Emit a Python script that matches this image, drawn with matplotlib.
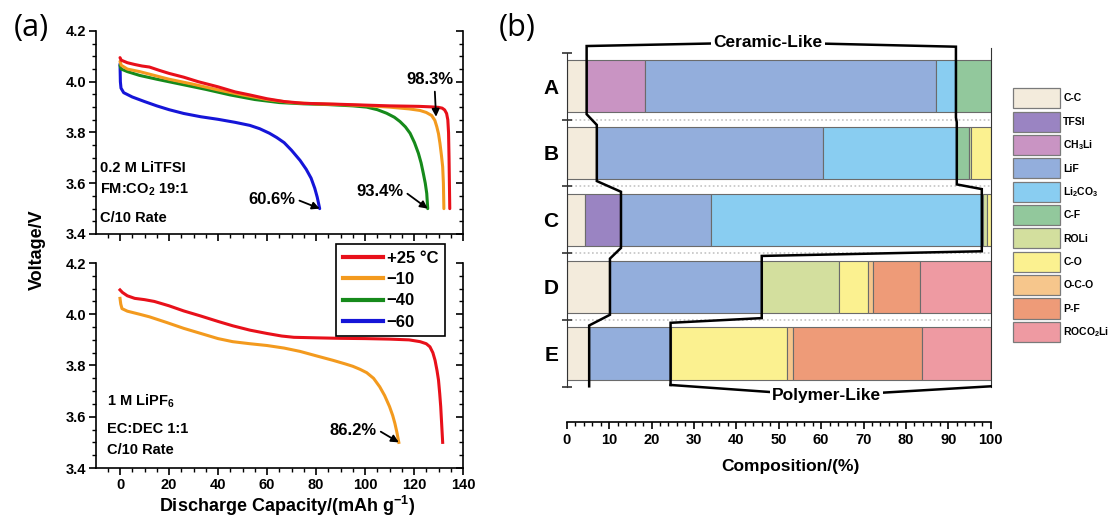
import matplotlib
matplotlib.use("Agg")
import matplotlib.pyplot as plt
from matplotlib.patches import Patch
from matplotlib.lines import Line2D
from matplotlib.ticker import MultipleLocator, FormatStrFormatter, FixedLocator
import numpy as np

plt.rcParams['font.family'] = ['Liberation Sans', 'DejaVu Sans']
plt.rcParams['font.weight'] = 'bold'
plt.rcParams['mathtext.fontset'] = 'custom'
plt.rcParams['mathtext.rm'] = 'Liberation Sans:bold'
plt.rcParams['mathtext.bf'] = 'Liberation Sans:bold'
plt.rcParams['mathtext.it'] = 'Liberation Sans:bold'
plt.rcParams['mathtext.default'] = 'bf'

# ---------------- Panel (a) data: 0.2 M LiTFSI FM:CO2 19:1 ----------------
top_p25_cap = [0, 0.5, 3, 6, 9, 12, 16, 20, 26, 32, 40, 47, 53, 60, 67, 75, 87, 100, 110, 122,
               127, 130, 131.5, 132.5, 133.3, 133.8, 134.1, 134.3, 134.45, 134.6]
top_p25_v = [4.095, 4.085, 4.075, 4.068, 4.062, 4.058, 4.045, 4.033, 4.018, 4.0, 3.98, 3.96, 3.948,
             3.933, 3.922, 3.915, 3.912, 3.908, 3.905, 3.903, 3.901, 3.899, 3.896, 3.889, 3.875,
             3.85, 3.8, 3.7, 3.6, 3.5]
top_m10_cap = [0, 0.5, 3, 8, 12, 20, 30, 40, 50, 60, 70, 80, 90, 100, 110, 118, 122.4, 125, 127.2,
               128.5, 129.3, 130, 130.6, 131.2, 131.7, 132, 132.2]
top_m10_v = [4.08, 4.065, 4.05, 4.04, 4.03, 4.01, 3.99, 3.968, 3.948, 3.93, 3.918, 3.913, 3.91,
             3.906, 3.9, 3.893, 3.887, 3.879, 3.867, 3.848, 3.823, 3.795, 3.757, 3.71, 3.665, 3.6, 3.5]
top_m40_cap = [0, 0.5, 3, 8, 15, 25, 35, 45, 55, 65, 75, 85, 95, 100.7, 105, 108.8, 112, 114.3,
               116.5, 118.4, 120.2, 121.8, 122.9, 123.8, 124.6, 125.2, 125.6]
top_m40_v = [4.065, 4.05, 4.04, 4.025, 4.01, 3.99, 3.97, 3.948, 3.93, 3.918, 3.913, 3.91, 3.905,
             3.9, 3.89, 3.876, 3.86, 3.843, 3.822, 3.797, 3.76, 3.718, 3.68, 3.639, 3.6, 3.56, 3.5]
top_m60_cap = [0, 0.15, 0.4, 1.5, 5, 10, 15, 20, 26, 33, 40, 47, 53, 57, 61, 64, 67, 70, 73.5,
               76, 78, 79.5, 80.5, 81.5]
top_m60_v = [4.07, 4.0, 3.975, 3.957, 3.94, 3.922, 3.905, 3.89, 3.875, 3.862, 3.852, 3.84, 3.828,
             3.815, 3.797, 3.78, 3.76, 3.73, 3.69, 3.655, 3.62, 3.58, 3.545, 3.5]

# ---------------- Panel (a) data: 1 M LiPF6 EC:DEC 1:1 ----------------
bot_p25_cap = [0, 1, 3, 6, 10, 14, 20, 26, 33, 40, 46, 53, 60, 66, 71, 80, 90, 100, 110, 118,
               122.5, 125, 126.5, 127.7, 128.6, 129.4, 130, 130.5, 130.9, 131.3, 131.7]
bot_p25_v = [4.095, 4.085, 4.072, 4.062, 4.057, 4.05, 4.033, 4.013, 3.993, 3.972, 3.955, 3.938,
             3.925, 3.915, 3.91, 3.908, 3.906, 3.905, 3.903, 3.9, 3.893, 3.885, 3.873, 3.85, 3.82,
             3.78, 3.743, 3.69, 3.64, 3.57, 3.5]
bot_m10_cap = [0, 0.3, 0.8, 3, 8, 12, 19, 26, 33, 40, 46, 53, 60, 67, 73.5, 80, 87, 92, 95, 98,
               100.7, 103.5, 106, 108, 110, 111.3, 112.2, 113, 113.8]
bot_m10_v = [4.062, 4.04, 4.022, 4.012, 4.0, 3.99, 3.968, 3.945, 3.925, 3.905, 3.893, 3.885, 3.878,
             3.868, 3.855, 3.838, 3.82, 3.806, 3.797, 3.785, 3.772, 3.75, 3.717, 3.683, 3.64, 3.605,
             3.574, 3.54, 3.5]

temp_labels = ['+25 \u00b0C', '\u221210', '\u221240', '\u221260']
temp_colors = ['#E8101A', '#F39A1E', '#168A1B', '#1515D8']

# ---------------- Panel (b) data ----------------
samples = ['A', 'B', 'C', 'D', 'E']
species = ['C-C', 'TFSI', 'CH3Li', 'LiF', 'Li2CO3', 'C-F', 'ROLi', 'C-O', 'O-C-O', 'P-F', 'ROCO2Li']
species_labels = ['C-C', 'TFSI', 'CH$_3$Li', 'LiF', 'Li$_2$CO$_3$', 'C-F', 'ROLi', 'C-O',
                  'O-C-O', 'P-F', 'ROCO$_2$Li']
species_colors = ['#F3EBDC', '#9A84C2', '#C994C3', '#93AEDC', '#89CDF1', '#92C89C', '#D3DF9E',
                  '#FBF190', '#F6C68C', '#EE9B78', '#EE9AA2']
cc = [4.7, 7.1, 4.3, 10.2, 5.3]
tfsi = [0, 0, 8.5, 0, 0]
ch3li = [13.85, 0, 0, 0, 0]
lif = [68.45, 53.3, 21.2, 35.8, 19.2]
li2co3 = [4.8, 31.6, 63.9, 0, 0]
cf = [8.2, 2.9, 0.4, 0, 0]
roli = [0, 0.5, 0.9, 18.2, 0]
co = [0, 4.6, 0.8, 6.9, 27.4]
oco = [0, 0, 0, 1.2, 1.4]
pf = [0, 0, 0, 11.0, 30.5]
roco2li = [0, 0, 0, 16.7, 16.2]
composition = [cc, tfsi, ch3li, lif, li2co3, cf, roli, co, oco, pf, roco2li]
# ceramic-like region per sample: first and last species inside the bracket
ceramic_first = ['CH3Li', 'LiF', 'LiF', 'LiF', 'LiF']
ceramic_last = ['Li2CO3', 'Li2CO3', 'Li2CO3', 'LiF', 'LiF']

# ---------------- Figure ----------------
W, H = 1114, 520
fig = plt.figure(figsize=(W / 100, H / 100), dpi=100)


def fx(px):
    return px / W


def fy(py):
    return 1 - py / H


ax_top = fig.add_axes([fx(96), fy(234), 367 / W, 203 / H])
ax_bot = fig.add_axes([fx(96), fy(468), 367 / W, 205 / H])


def style_a(ax, show_xlabels):
    ax.set_xlim(-9.8, 140)
    ax.set_ylim(3.4, 4.2)
    ax.spines['top'].set_visible(False)
    ax.spines['right'].set_visible(False)
    for s in ['left', 'bottom']:
        ax.spines[s].set_linewidth(1.2)
    ax.xaxis.set_major_locator(MultipleLocator(20))
    ax.xaxis.set_minor_locator(MultipleLocator(5))
    ax.yaxis.set_major_locator(MultipleLocator(0.2))
    ax.yaxis.set_minor_locator(MultipleLocator(0.05))
    ax.yaxis.set_major_formatter(FormatStrFormatter('%.1f'))
    ax.tick_params(which='major', direction='out', length=5, width=1.2, labelsize=10.5, pad=2)
    ax.tick_params(which='minor', direction='out', length=3, width=1)
    if not show_xlabels:
        ax.tick_params(axis='x', labelbottom=False)
    sec = ax.secondary_yaxis('right')
    sec.yaxis.set_major_locator(MultipleLocator(0.2))
    sec.yaxis.set_minor_locator(MultipleLocator(0.05))
    sec.tick_params(which='major', direction='in', length=5, width=1.2, labelright=False)
    sec.tick_params(which='minor', direction='in', length=3, width=1)
    sec.spines['right'].set_linewidth(1.2)


style_a(ax_top, False)
style_a(ax_bot, True)

lw = 2.2
top_series = [(top_p25_cap, top_p25_v), (top_m10_cap, top_m10_v),
              (top_m40_cap, top_m40_v), (top_m60_cap, top_m60_v)]
for (c, v), col in zip(top_series[::-1], temp_colors[::-1]):
    ax_top.plot(c, v, color=col, lw=lw, solid_capstyle='round')
ax_bot.plot(bot_m10_cap, bot_m10_v, color=temp_colors[1], lw=lw)
ax_bot.plot(bot_p25_cap, bot_p25_v, color=temp_colors[0], lw=lw)

arrow = dict(arrowstyle='-|>', color='black', lw=1.3, mutation_scale=11, shrinkA=1, shrinkB=0)
ax_top.annotate('98.3%', xy=(129.0, 3.862), xytext=(126.5, 4.007), ha='center', va='center',
                fontsize=12, arrowprops=dict(arrow, relpos=(0.6, 0.0)))
ax_top.annotate('60.6%', xy=(top_m60_cap[-1], top_m60_v[-1]), xytext=(62, 3.535), ha='center',
                va='center', fontsize=12, arrowprops=dict(arrow, relpos=(1.0, 0.55)))
ax_top.annotate('93.4%', xy=(top_m40_cap[-1], top_m40_v[-1]), xytext=(106.1, 3.567), ha='center',
                va='center', fontsize=12, arrowprops=dict(arrow, relpos=(1.0, 0.55)))
ax_bot.annotate('86.2%', xy=(bot_m10_cap[-1], bot_m10_v[-1]), xytext=(95.2, 3.548), ha='center',
                va='center', fontsize=12, arrowprops=dict(arrow, relpos=(1.0, 0.55)))

for txt, yv in zip(['0.2 M LiTFSI', 'FM:CO$_2$ 19:1', 'C/10 Rate'], [3.66, 3.573, 3.463]):
    ax_top.text(-8.2, yv, txt, fontsize=10.5, va='center', ha='left')
for txt, yv in zip(['1 M LiPF$_6$', 'EC:DEC 1:1', 'C/10 Rate'], [3.659, 3.551, 3.47]):
    ax_bot.text(-5.2, yv, txt, fontsize=10.5, va='center', ha='left')

handles = [Line2D([], [], color=c, lw=3) for c in temp_colors]
fig.legend(handles, temp_labels, loc='upper left', bbox_to_anchor=(fx(336), fy(244)),
           borderaxespad=0, fontsize=12, frameon=True, fancybox=False, edgecolor='black',
           framealpha=1, handlelength=2.4, handletextpad=0.25, labelspacing=0.38, borderpad=0.4)
fig.legends[-1].get_frame().set_linewidth(1.2)

fig.text(fx(37), fy(250), 'Voltage/V', rotation=90, ha='center', va='center', fontsize=13)
fig.text(fx(287), fy(506), 'Discharge Capacity/(mAh g$^{\u22121}$)', ha='center', va='center',
         fontsize=13)

# ---------------- Panel (b) ----------------
ax_b = fig.add_axes([fx(566.7), fy(422), 424 / W, (422 - 34) / H])
ax_b.set_xlim(0, 100)
ax_b.set_ylim(5.024, -0.78)
ypos = np.arange(len(samples))
left = np.zeros(len(samples))
cum = {}
for sp, vals, col in zip(species, composition, species_colors):
    vals = np.array(vals, dtype=float)
    m = vals > 0
    ax_b.barh(ypos[m], vals[m], left=left[m], height=0.78, color=col, edgecolor='#6b6b6b',
              linewidth=0.8, zorder=2)
    cum[sp] = (left.copy(), left + vals)
    left = left + vals

ax_b.hlines([0.5, 1.5, 2.5, 3.5], 0, 100, colors='#c4c4c4', linestyles=(0, (1, 1.5)), lw=1.2,
            zorder=1)

ax_b.spines['top'].set_visible(False)
ax_b.spines['left'].set_bounds(-0.5, 4.5)
ax_b.spines['left'].set_color('#333333')
ax_b.spines['right'].set_bounds(-0.57, 4.5)
ax_b.spines['right'].set_color('#333333')
ax_b.spines['bottom'].set_linewidth(1.2)
ax_b.set_yticks(ypos)
ax_b.set_yticklabels(samples, fontsize=15)
ax_b.yaxis.set_minor_locator(FixedLocator(np.arange(-0.5, 4.6, 1.0)))
ax_b.tick_params(axis='y', which='major', length=0, pad=6)
ax_b.tick_params(axis='y', which='minor', direction='inout', length=7, width=1.2,
                 color='#333333')
ax_b.xaxis.set_major_locator(MultipleLocator(10))
ax_b.xaxis.set_minor_locator(MultipleLocator(2))
ax_b.tick_params(axis='x', which='major', direction='out', length=5, width=1.2, labelsize=10.5,
                 pad=3)
ax_b.tick_params(axis='x', which='minor', direction='out', length=3, width=1)

# ceramic/polymer bracket lines derived from cumulative composition
Lb = [cum[ceramic_first[i]][0][i] for i in range(5)]
Rb = [cum[ceramic_last[i]][1][i] for i in range(5)]
lx, ly = [], []
for i in range(5):
    top = -0.6 if i == 0 else i - 0.42
    bot = 4.49 if i == 4 else i + 0.42
    lx += [Lb[i], Lb[i]]
    ly += [top, bot]
rx, ry = [], []
for i in range(5):
    top = -0.59 if i == 0 else i - 0.46
    bot = 4.47 if i == 4 else i + 0.47
    rx += [Rb[i], Rb[i]]
    ry += [top, bot]
bx = lx[::-1] + [47.5] + rx
by = ly[::-1] + [-0.655] + ry
ax_b.plot(bx, by, color='black', lw=1.8, zorder=4, clip_on=False, solid_joinstyle='miter')
ax_b.plot([Rb[4], 61.2, 100], [4.47, 4.635, 4.49], color='black', lw=1.8, zorder=4,
          clip_on=False)
ax_b.text(47.5, -0.655, 'Ceramic-Like', ha='center', va='center', fontsize=12.5, zorder=5,
          bbox=dict(facecolor='white', edgecolor='none', pad=1.5))
ax_b.text(61.2, 4.635, 'Polymer-Like', ha='center', va='center', fontsize=12.5, zorder=5,
          bbox=dict(facecolor='white', edgecolor='none', pad=1.5))

fig.text(fx(790), fy(466.7), 'Composition/(%)', ha='center', va='center', fontsize=12.5)

# legend for (b)
ph = [Patch(facecolor=c, edgecolor='#7a7a7a', linewidth=0.9) for c in species_colors]
fig.legend(ph, species_labels, loc='upper left', bbox_to_anchor=(fx(1013.3), fy(88.3)),
           borderaxespad=0, borderpad=0, frameon=False, fontsize=7.5, handlelength=4.5,
           handleheight=2.58, labelspacing=0.32, handletextpad=0.3)

# panel labels
fig.text(fx(31.7), fy(28), '(a)', fontsize=22, fontweight='normal', family='Open Sans',
         ha='center', va='center')
fig.text(fx(517.5), fy(28), '(b)', fontsize=22, fontweight='normal', family='Open Sans',
         ha='center', va='center')

fig.savefig('out.png', dpi=100)
